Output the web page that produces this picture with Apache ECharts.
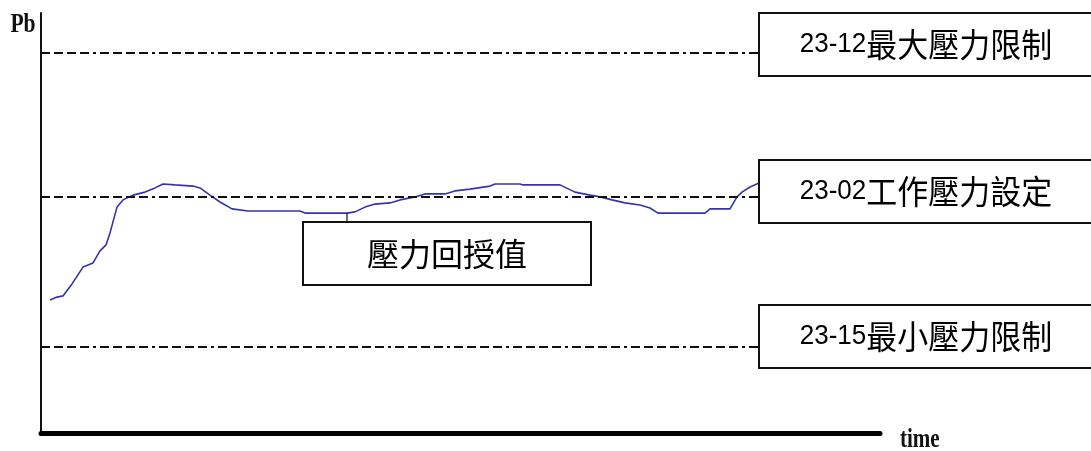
<!DOCTYPE html>
<html>
<head>
<meta charset="utf-8">
<title>壓力回授值</title>
<script src="https://cdn.jsdelivr.net/npm/echarts@6/dist/echarts.min.js"></script>
<style>
  html, body {
    margin: 0;
    padding: 0;
    background: #ffffff;
  }
  #chart {
    width: 1091px;
    height: 451px;
  }
</style>
</head>
<body>
<div id="chart"></div>
<script>
// 壓力回授值 (time, Pb) 讀圖估值
const timeValues = [9, 16, 22, 31, 42, 52, 59, 65, 69, 76, 82, 92, 104, 114, 122, 134, 152, 159, 169, 179, 191, 207, 259, 264, 306, 314, 324, 334, 349, 359, 374, 384, 404, 414, 429, 449, 454, 479, 482, 519, 534, 549, 559, 571, 584, 599, 609, 617, 664, 669, 689, 696, 701, 709, 718];
const pbValues = [44.3, 45.3, 45.7, 49.7, 55.3, 56.7, 60.7, 62.7, 66.7, 75.3, 77.7, 79.3, 80.3, 81.7, 83, 82.7, 82.3, 81.7, 79.3, 77, 74.7, 74, 74, 73.3, 73.3, 73.7, 75.3, 76.3, 76.7, 77.7, 78.7, 79.7, 79.7, 80.7, 81.3, 82.3, 83, 83, 82.7, 82.7, 80.3, 79.3, 78.7, 77.7, 76.7, 76, 75, 73.3, 73.3, 74.7, 74.7, 78.7, 80.3, 82, 83.3];

// 參數設定線
const limitNames = ["23-12最大壓力限制", "23-02工作壓力設定", "23-15最小壓力限制"];
const limitValues = [126.7, 78.7, 28.7];
const limitEnd = 718;

const myChart = echarts.init(document.getElementById("chart"));

const seriesData = timeValues.map((t, i) => [t, pbValues[i]]);
const dashDot = [9, 4, 9, 4, 9, 4, 9, 4, 3, 4];

// 右側說明框
const boxTops = [13, 160, 305];
const boxH = 63;
const boxGraphics = [];
limitNames.forEach((name, i) => {
  const code = name.slice(0, 5);
  const text = name.slice(5);
  boxGraphics.push({
    type: "rect",
    shape: { x: 759, y: boxTops[i], width: 340, height: boxH },
    style: { fill: "#fff", stroke: "#111", lineWidth: 2 },
    z: 10
  });
  boxGraphics.push({
    type: "text",
    x: 926,
    y: boxTops[i] + boxH / 2,
    scaleY: 1.08,
    style: {
      text: "{a|" + code + "}{b|" + text + "}",
      align: "center",
      verticalAlign: "middle",
      rich: {
        a: { fontFamily: "Liberation Sans", fontSize: 26, fill: "#000" },
        b: { fontFamily: "Noto Sans CJK TC", fontSize: 31, fill: "#000" }
      }
    },
    z: 11
  });
});

const option = {
  animation: false,
  grid: {
    left: 41,
    right: 211,
    top: 13,
    bottom: 18
  },
  xAxis: {
    type: "value",
    min: 0,
    max: 839,
    axisLine: { show: true, lineStyle: { color: "#000", width: 5 } },
    axisTick: { show: false },
    axisLabel: { show: false },
    splitLine: { show: false }
  },
  yAxis: {
    type: "value",
    min: 0,
    max: 140,
    axisLine: { show: true, lineStyle: { color: "#111", width: 2 } },
    axisTick: { show: false },
    axisLabel: { show: false },
    splitLine: { show: false }
  },
  series: [
    {
      name: "壓力回授值",
      type: "line",
      data: seriesData,
      showSymbol: false,
      lineStyle: { color: "#3434ac", width: 1.6 },
      markLine: {
        silent: true,
        symbol: "none",
        label: { show: false },
        lineStyle: { color: "#111", width: 2, type: dashDot },
        data: limitValues.map(v => [{ coord: [0, v] }, { coord: [limitEnd, v] }])
      },
      z: 3
    }
  ],
  graphic: []
};

myChart.setOption(option);

// 壓力回授值 說明框與指示線
const tip = myChart.convertToPixel({ gridIndex: 0 }, [timeValues[24], pbValues[24]]);
const graphics = boxGraphics.concat([
  {
    type: "line",
    shape: { x1: tip[0], y1: tip[1], x2: tip[0], y2: 222 },
    style: { stroke: "#111", lineWidth: 1.2 },
    z: 9
  },
  {
    type: "rect",
    shape: { x: 303, y: 222, width: 288, height: 63 },
    style: { fill: "#fff", stroke: "#111", lineWidth: 2 },
    z: 10
  },
  {
    type: "text",
    x: 447,
    y: 254,
    style: {
      text: "壓力回授值",
      align: "center",
      verticalAlign: "middle",
      fontFamily: "Noto Sans CJK TC",
      fontSize: 32,
      fill: "#000"
    },
    z: 11
  },
  {
    // 縱軸名稱
    type: "text",
    x: 23,
    y: 25,
    scaleX: 0.8,
    style: {
      text: "Pb",
      align: "center",
      verticalAlign: "middle",
      fontFamily: "Liberation Serif",
      fontWeight: "bold",
      fontSize: 27,
      fill: "#111"
    }
  },
  {
    // 橫軸名稱
    type: "text",
    x: 900,
    y: 440,
    scaleX: 0.75,
    style: {
      text: "time",
      align: "left",
      verticalAlign: "middle",
      fontFamily: "Liberation Serif",
      fontWeight: "bold",
      fontSize: 28,
      fill: "#111"
    }
  }
]);
myChart.setOption({ graphic: graphics });
</script>
</body>
</html>
